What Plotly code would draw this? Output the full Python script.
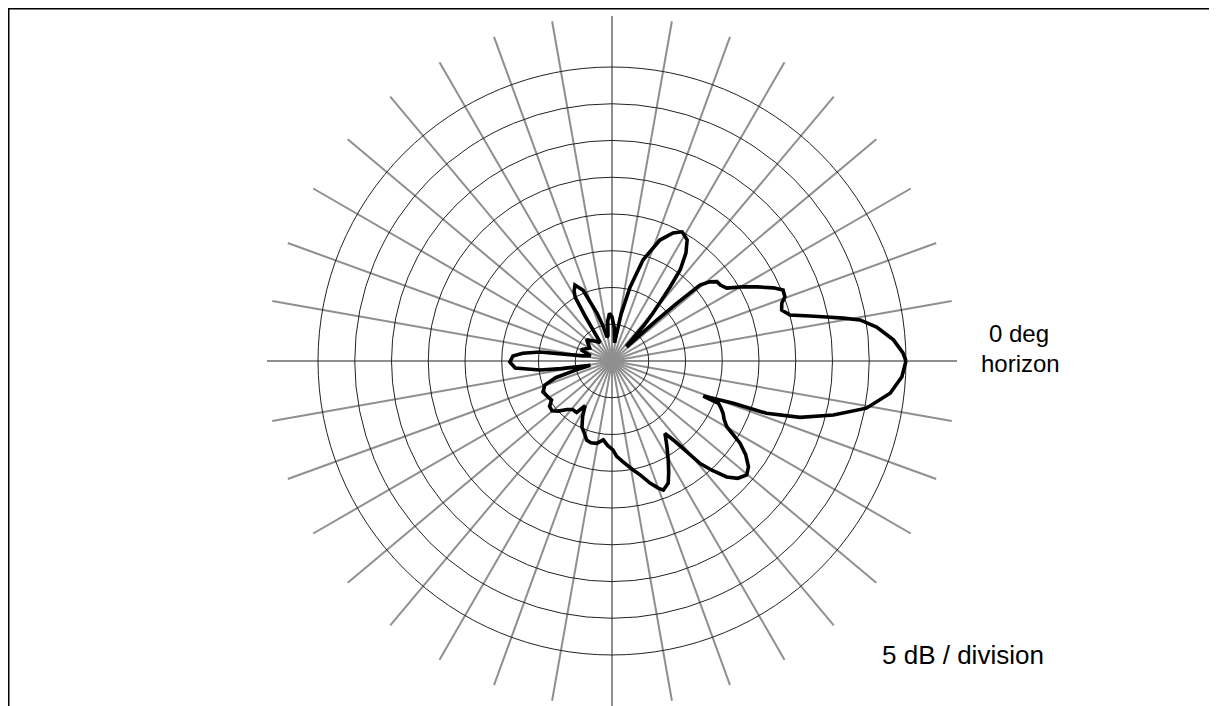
import plotly.graph_objects as go

# Elevation pattern: angle (deg, 0 = horizon, counter-clockwise) and relative level (dB)
angle_deg = [0, 1.6, 4.3, 7.3, 9.4, 10.5, 11.6, 12.8, 14.5, 16.7, 18.8, 20.4, 22.5, 24.4, 27,
             29.5, 32.4, 35, 37.1, 39, 40.8, 41.7, 42.5, 44, 46, 48, 49.5, 51.9, 53.2, 55.6,
             58.2, 61.5, 64.5, 68.4, 72.9, 76.3, 79, 82, 86, 90, 93, 96, 99, 101.8, 104.5,
             107.4, 112.2, 116, 118.5, 120, 121, 122.5, 130, 140, 150, 160, 166, 170, 172.9,
             175, 177.1, 180.6, 184.1, 187.1, 188.5, 191, 194, 196.5, 199.7, 204.2, 209,
             212.9, 216, 219.7, 223, 227.2, 231, 235.5, 239, 242, 245.6, 249, 252.2, 255.5,
             259.5, 263.7, 267, 270.6, 272.8, 277, 281, 284, 287.3, 290, 291.7, 294.7, 297,
             299.6, 303, 306.2, 307.8, 310.7, 312.5, 314.7, 317, 319.8, 322.2, 325, 327.3,
             330.2, 332.5, 334.8, 336.5, 338.3, 339, 340.8, 341.3, 343.3, 346.3, 349.5,
             353.4, 356.9, 360]
level_db = [0, -0.4, -1.6, -3.7, -5.8, -8.0, -10.2, -12.4, -15.0, -15.9, -15.6, -14.9, -14.8,
            -15.9, -17.8, -19.5, -21.5, -22.0, -22.1, -22.9, -24.2, -28.2, -32, -37, -37,
            -33.5, -31.4, -27.2, -24.5, -22.2, -20.6, -20.0, -20.7, -22.3, -25.6, -29.7,
            -33.5, -37.5, -35.5, -34, -33.5, -34.5, -36.5, -36.7, -35, -33.2, -29.6, -28.5,
            -29.2, -30, -33, -37, -36.5, -35.5, -36.5, -35.5, -37, -36, -30.1, -27.8, -26.5,
            -26.1, -26.8, -30.1, -33, -37, -35, -32, -30.3, -29.7, -30, -30.2, -29.5, -29.4,
            -30, -31, -31.5, -31.5, -32.9, -31.5, -30.1, -29.5, -28.7, -28.5, -28.6, -29.2,
            -28.5, -27.9, -27, -26, -24.9, -24, -22.6, -21.6, -21.1, -21.7, -23, -24.5,
            -26.3, -27.8, -26.4, -21.6, -19.8, -17.8, -16.6, -16.0, -16.5, -17.8, -19.3,
            -22.0, -22.8, -23.3, -23.8, -24.4, -26.7, -22.5, -17.8, -13.3, -9.0, -4.8, -1.9,
            -0.5, 0]

ring_levels = [-35, -30, -25, -20, -15, -10, -5, 0]
radial_range = [-40, 6.94]

W, H = 1209, 698  # page body has an 8px margin

fig = go.Figure()
fig.add_trace(go.Scatterpolar(
    theta=angle_deg, r=level_db, mode="lines",
    line=dict(color="black", width=3.6),
    hoverinfo="skip", showlegend=False,
))

label_font = dict(family="Liberation Sans, Arial", size=24, color="black")

fig.update_layout(
    width=W, height=H,
    margin=dict(l=0, r=0, t=0, b=0),
    paper_bgcolor="white",
    plot_bgcolor="white",
    showlegend=False,
    polar=dict(
        domain=dict(x=[259 / W, 949 / W], y=[0, 1 - 8 / H]),
        bgcolor="white",
        radialaxis=dict(
            range=radial_range, tickvals=ring_levels, showticklabels=False,
            ticks="", showline=False, gridcolor="#222222", gridwidth=1,
        ),
        angularaxis=dict(
            rotation=0, direction="counterclockwise", dtick=10,
            showticklabels=False, ticks="", showline=False,
            gridcolor="#8f8f8f", gridwidth=2,
        ),
    ),
    shapes=[dict(type="rect", xref="paper", yref="paper",
                 x0=0.5 / W, x1=1205 / W, y0=-0.05, y1=1 - 0.5 / H,
                 line=dict(color="black", width=2), layer="above")],
    annotations=[
        dict(text="0 deg", xref="paper", yref="paper",
             x=1011 / W, y=1 - 326 / H, xanchor="center", yanchor="middle",
             showarrow=False, font=label_font, borderpad=0),
        dict(text="horizon", xref="paper", yref="paper",
             x=1012 / W, y=1 - 355 / H, xanchor="center", yanchor="middle",
             showarrow=False, font=label_font, borderpad=0),
        dict(text="5 dB / division", xref="paper", yref="paper",
             x=955 / W, y=1 - 647 / H, xanchor="center", yanchor="middle",
             showarrow=False,
             font=dict(family="Liberation Sans, Arial", size=26, color="black")),
    ],
)

fig.write_html("out.html")
